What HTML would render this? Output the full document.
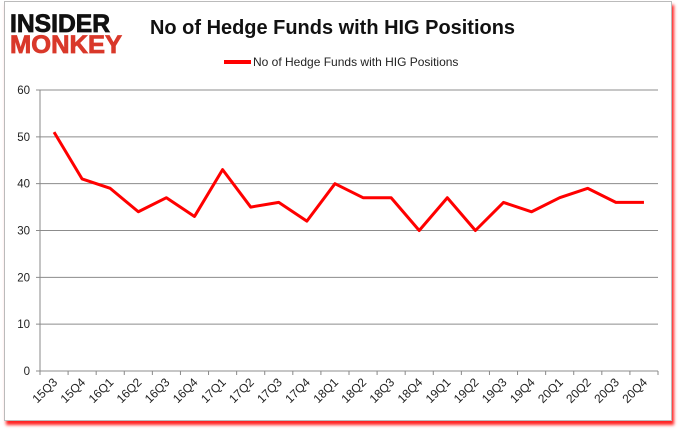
<!DOCTYPE html>
<html><head><meta charset="utf-8"><style>
body{margin:0;background:#fff;font-family:"Liberation Sans",sans-serif}
#wrap{position:relative;width:678px;height:431px;overflow:hidden}
#frame{position:absolute;left:4px;top:1px;width:666px;height:418px;border:1px solid #bbb;background:#fff;box-shadow:2px 4px 3px #f22}
</style></head><body>
<div id="wrap">
<div id="frame"></div>
<svg width="678" height="431" style="position:absolute;left:0;top:0">
<g font-family="Liberation Sans" font-weight="bold" font-size="25">
<text x="10" y="32" fill="#111" stroke="#111" stroke-width="0.8" textLength="100" lengthAdjust="spacingAndGlyphs">INSIDER</text>
<text x="10" y="53" fill="#d9382a" stroke="#d9382a" stroke-width="0.8" textLength="112" lengthAdjust="spacingAndGlyphs">MONKEY</text>
</g>
<text x="150" y="34" font-size="20" font-weight="bold" fill="#111" textLength="365" lengthAdjust="spacingAndGlyphs">No of Hedge Funds with HIG Positions</text>
<g>
<line x1="224" y1="62" x2="251" y2="62" stroke="#f00" stroke-width="4"/>
<text x="253" y="66" font-size="12" fill="#222">No of Hedge Funds with HIG Positions</text>
</g>
<g id="grid"></g>
<g id="yaxis"></g>
<g id="xaxis"></g>
<g id="series"></g>
</svg></div>
<script>
const categories=["15Q3","15Q4","16Q1","16Q2","16Q3","16Q4","17Q1","17Q2","17Q3","17Q4","18Q1","18Q2","18Q3","18Q4","19Q1","19Q2","19Q3","19Q4","20Q1","20Q2","20Q3","20Q4"];
const values=[51,41,39,34,37,33,43,35,36,32,40,37,37,30,37,30,36,34,37,39,36,36];
const yTicks=[0,10,20,30,40,50,60];
const NS="http://www.w3.org/2000/svg";
const L=40,R=658,T=90,B=371;
const step=(R-L)/categories.length;
function xs(i){return L+step*(i+0.5);}
function ys(v){return B-(v/60)*(B-T);}
function mk(tag,attrs,parent){const e=document.createElementNS(NS,tag);for(const k in attrs)e.setAttribute(k,attrs[k]);parent.appendChild(e);return e;}
const grid=document.getElementById('grid'),ya=document.getElementById('yaxis'),xa=document.getElementById('xaxis'),se=document.getElementById('series');
yTicks.forEach(t=>{
 const l=mk('line',{x1:L-4,x2:R,y1:ys(t),y2:ys(t),stroke:'#8c8c8c','stroke-width':1},grid);
 
 
 const tx=mk('text',{x:L-10,y:ys(t)+4,'text-anchor':'end','font-size':11.5,fill:'#222'},ya);
 tx.textContent=t;
 
 
});
mk('line',{x1:L,x2:L,y1:T,y2:B,stroke:'#888'},ya);
categories.forEach((c,i)=>{
 const x=L+step*i;
 mk('line',{x1:x,x2:x,y1:B,y2:B+4,stroke:'#888'},xa);
 const cx=xs(i)+4,cy=B+12;
 const tx=mk('text',{x:cx,y:cy,'text-anchor':'end','font-size':12,fill:'#222',transform:`rotate(-45 ${cx} ${cy})`},xa);
 tx.textContent=c;
 
 
});
mk('line',{x1:R,x2:R,y1:B,y2:B+4,stroke:'#888'},xa);
const p=mk('polyline',{points:values.map((v,i)=>xs(i)+','+ys(v)).join(' '),fill:'none',stroke:'#f00','stroke-width':3,'stroke-linejoin':'round'},se);


</script>
</body></html>
